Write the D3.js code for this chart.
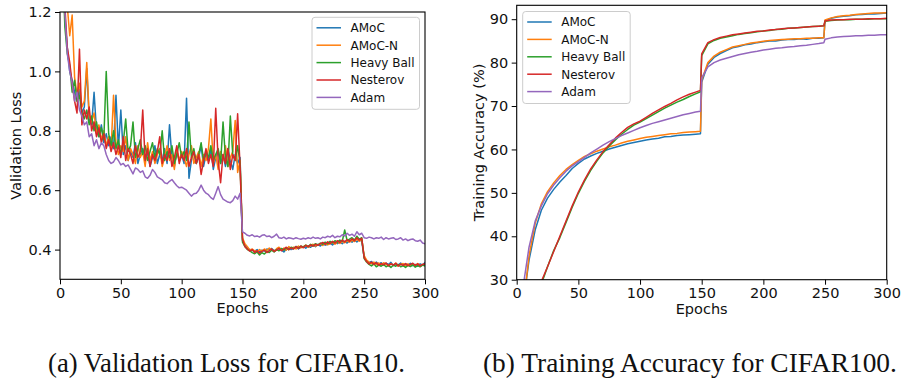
<!DOCTYPE html>
<html>
<head>
<meta charset="utf-8">
<script src="https://cdn.jsdelivr.net/npm/d3@7"></script>
<style>
  html, body { margin: 0; padding: 0; background: #fff; }
  svg { display: block; }
</style>
</head>
<body>
<svg id="fig" width="902" height="378"></svg>
<script>
// ---------- shared labels ----------
const methods = ["AMoC", "AMoC-N", "Heavy Ball", "Nesterov", "Adam"];
const colors = ["#1f77b4", "#ff7f0e", "#2ca02c", "#d62728", "#9467bd"];
const epochTicks = [0, 50, 100, 150, 200, 250, 300];
const lossTicks = [0.4, 0.6, 0.8, 1.0, 1.2];
const accTicks = [30, 40, 50, 60, 70, 80, 90];

// ---------- (a) validation loss, CIFAR10, every 2 epochs from 0 to 300 ----------
const lossEpochs = d3.range(0, 301, 2);
const lossAMoC = [
  2.2, 1.42, 1.18, 1.08, 1.0, 0.97, 0.93, 0.9, 0.94, 0.86,
  0.88, 1.01, 0.84, 0.82, 0.93, 0.8, 0.78, 0.82, 0.76, 0.79,
  0.75, 0.78, 0.74, 0.92, 0.74, 0.87, 0.72, 0.75, 0.7, 0.73,
  0.71, 0.76, 0.69, 0.72, 0.74, 0.7, 0.73, 0.68, 0.71, 0.75,
  0.69, 0.72, 0.7, 0.74, 0.69, 0.82, 0.71, 0.68, 0.73, 0.7,
  0.72, 0.69, 0.91, 0.64, 0.7, 0.73, 0.69, 0.71, 0.75, 0.68,
  0.72, 0.7, 0.74, 0.67, 0.71, 0.73, 0.69, 0.72, 0.68, 0.74,
  0.7, 0.67, 0.72, 0.69, 0.71, 0.43, 0.415, 0.405, 0.4, 0.398,
  0.395, 0.4, 0.392, 0.398, 0.395, 0.402, 0.398, 0.404, 0.396, 0.4,
  0.405, 0.398, 0.392, 0.402, 0.406, 0.4, 0.404, 0.41, 0.402, 0.408,
  0.41, 0.405, 0.412, 0.408, 0.415, 0.41, 0.418, 0.412, 0.42, 0.415,
  0.418, 0.422, 0.416, 0.424, 0.42, 0.426, 0.42, 0.428, 0.422, 0.43,
  0.425, 0.432, 0.426, 0.434, 0.428, 0.375, 0.362, 0.356, 0.36, 0.352,
  0.358, 0.35, 0.356, 0.348, 0.354, 0.35, 0.357, 0.346, 0.352, 0.348,
  0.355, 0.345, 0.352, 0.348, 0.354, 0.346, 0.35, 0.344, 0.352, 0.348,
  0.356
];
const lossAMoCN = [
  2.3, 1.55, 1.3, 1.22, 1.12, 1.19, 0.98, 0.92, 0.96, 0.88,
  0.9, 1.03, 0.85, 0.83, 0.86, 0.79, 0.82, 0.77, 0.8, 0.75,
  0.78, 0.74, 0.92, 0.76, 0.72, 0.75, 0.73, 0.78, 0.7, 0.74,
  0.72, 0.69, 0.75, 0.71, 0.73, 0.68, 0.76, 0.7, 0.73, 0.69,
  0.72, 0.74, 0.68, 0.71, 0.75, 0.7, 0.72, 0.67, 0.74, 0.7,
  0.73, 0.71, 0.68, 0.72, 0.75, 0.69, 0.71, 0.73, 0.68, 0.72,
  0.7, 0.74, 0.84, 0.69, 0.72, 0.67, 0.73, 0.7, 0.75, 0.68,
  0.71, 0.73, 0.835, 0.66, 0.7, 0.44, 0.42, 0.41, 0.398, 0.402,
  0.396, 0.392, 0.4, 0.395, 0.402, 0.397, 0.405, 0.4, 0.394, 0.403,
  0.408, 0.4, 0.405, 0.398, 0.41, 0.404, 0.408, 0.402, 0.412, 0.406,
  0.41, 0.415, 0.408, 0.413, 0.418, 0.412, 0.416, 0.42, 0.414, 0.422,
  0.416, 0.42, 0.425, 0.418, 0.426, 0.421, 0.428, 0.423, 0.43, 0.425,
  0.432, 0.427, 0.435, 0.428, 0.436, 0.38, 0.365, 0.358, 0.352, 0.358,
  0.35, 0.355, 0.348, 0.356, 0.35, 0.346, 0.352, 0.348, 0.355, 0.344,
  0.35, 0.353, 0.346, 0.352, 0.344, 0.35, 0.346, 0.353, 0.345, 0.35,
  0.348
];
const lossHeavyBall = [
  2.1, 1.38, 1.15, 1.06, 1.02, 0.93, 0.97, 0.9, 0.92, 0.86,
  0.84, 0.87, 0.82, 0.85, 0.8, 0.83, 0.78, 0.81, 0.77, 1.0,
  0.79, 0.75, 0.8, 0.74, 0.77, 0.72, 0.76, 0.84, 0.73, 0.75,
  0.83, 0.71, 0.74, 0.77, 0.72, 0.75, 0.7, 0.73, 0.76, 0.71,
  0.74, 0.72, 0.8, 0.7, 0.73, 0.71, 0.75, 0.69, 0.72, 0.76,
  0.71, 0.73, 0.7, 0.83, 0.71, 0.74, 0.69, 0.72, 0.76, 0.7,
  0.73, 0.71, 0.75, 0.7, 0.72, 0.74, 0.69, 0.83, 0.71, 0.68,
  0.85, 0.72, 0.7, 0.75, 0.69, 0.425, 0.41, 0.4, 0.396, 0.39,
  0.386, 0.392, 0.382, 0.39, 0.385, 0.394, 0.39, 0.398, 0.392, 0.4,
  0.396, 0.404, 0.398, 0.406, 0.4, 0.408, 0.403, 0.41, 0.405, 0.412,
  0.408, 0.415, 0.41, 0.418, 0.412, 0.42, 0.415, 0.422, 0.418, 0.425,
  0.42, 0.428, 0.422, 0.43, 0.425, 0.432, 0.428, 0.466, 0.43, 0.435,
  0.44, 0.432, 0.445, 0.435, 0.44, 0.37, 0.358, 0.35, 0.345, 0.352,
  0.342, 0.348, 0.344, 0.35, 0.342, 0.347, 0.34, 0.348, 0.344, 0.35,
  0.342, 0.346, 0.34, 0.347, 0.343, 0.349, 0.341, 0.346, 0.342, 0.348,
  0.345
];
const lossNesterov = [
  2.2, 1.48, 1.22, 1.08, 1.03, 0.96, 0.9, 0.86, 1.075, 0.82,
  0.87, 0.84, 0.88, 0.8, 0.83, 0.78, 0.81, 0.76, 0.79, 0.74,
  0.77, 0.73, 0.76, 0.72, 0.75, 0.71, 0.78, 0.7, 0.74, 0.72,
  0.69, 0.75, 0.71, 0.73, 0.87, 0.7, 0.74, 0.68, 0.72, 0.7,
  0.73, 0.78, 0.69, 0.72, 0.7, 0.74, 0.68, 0.71, 0.75, 0.69,
  0.72, 0.7, 0.74, 0.68, 0.71, 0.73, 0.69, 0.72, 0.653, 0.7,
  0.74, 0.69, 0.72, 0.68, 0.876, 0.7, 0.625, 0.72, 0.69, 0.74,
  0.67, 0.72, 0.7, 0.857, 0.68, 0.435, 0.41, 0.402, 0.395, 0.4,
  0.39, 0.396, 0.388, 0.394, 0.398, 0.39, 0.396, 0.402, 0.394, 0.398,
  0.404, 0.396, 0.402, 0.408, 0.4, 0.406, 0.402, 0.41, 0.404, 0.412,
  0.406, 0.414, 0.41, 0.416, 0.412, 0.418, 0.414, 0.42, 0.424, 0.418,
  0.426, 0.42, 0.428, 0.422, 0.43, 0.424, 0.432, 0.426, 0.434, 0.428,
  0.436, 0.43, 0.44, 0.432, 0.438, 0.372, 0.36, 0.352, 0.358, 0.35,
  0.356, 0.347, 0.353, 0.349, 0.355, 0.346, 0.352, 0.348, 0.354, 0.345,
  0.351, 0.347, 0.353, 0.346, 0.35, 0.354, 0.347, 0.352, 0.345, 0.35,
  0.352
];
const lossAdam = [
  2.1, 1.45, 1.2, 1.06, 1.0, 0.96, 0.9, 0.93, 0.87, 0.85,
  0.82, 0.83, 0.78, 0.79, 0.75, 0.77, 0.74, 0.76, 0.75, 0.72,
  0.7, 0.69, 0.695, 0.71, 0.7, 0.685, 0.69, 0.68, 0.685, 0.67,
  0.655, 0.675, 0.67, 0.66, 0.665, 0.645, 0.64, 0.65, 0.67, 0.66,
  0.645, 0.64, 0.635, 0.625, 0.622, 0.63, 0.636, 0.625, 0.615, 0.608,
  0.61, 0.605, 0.6, 0.59, 0.58, 0.588, 0.59, 0.6, 0.617, 0.6,
  0.59, 0.585, 0.575, 0.569, 0.59, 0.612, 0.585, 0.57, 0.565, 0.56,
  0.558, 0.565, 0.58, 0.57, 0.59, 0.46, 0.455, 0.448, 0.446, 0.45,
  0.444, 0.446, 0.442, 0.448, 0.45, 0.444, 0.446, 0.44, 0.445, 0.452,
  0.44, 0.438, 0.442, 0.436, 0.44, 0.438, 0.436, 0.44, 0.437, 0.435,
  0.438, 0.436, 0.44, 0.437, 0.442, 0.438, 0.44, 0.436, 0.442, 0.44,
  0.445, 0.442, 0.448, 0.44, 0.445, 0.443, 0.45, 0.446, 0.455, 0.448,
  0.452, 0.445, 0.46, 0.45, 0.455, 0.44, 0.438, 0.442, 0.44, 0.436,
  0.44, 0.438, 0.442, 0.434, 0.44, 0.436, 0.438, 0.44, 0.434, 0.436,
  0.44, 0.432, 0.436, 0.43, 0.434, 0.436, 0.43, 0.428, 0.432, 0.422,
  0.42
];

// ---------- (b) training accuracy (%), CIFAR100 ----------
const accEpochs = [
  1, 5, 10, 15, 20, 25, 30, 35, 40, 45, 50, 55, 60, 65, 70, 75, 80, 85, 90, 95,
  100, 105, 110, 115, 120, 125, 130, 135, 140, 145, 149,
  150, 155, 160, 165, 170, 175, 180, 185, 190, 195, 200, 205, 210, 215, 220,
  225, 230, 235, 240, 245, 249,
  250, 255, 260, 265, 270, 275, 280, 285, 290, 295, 300
];
const accAMoC = [
  10, 24, 34.5, 41.5, 46, 48.8, 50.8, 52.5, 54, 55.6, 56.8, 57.8, 58.5, 59.1, 59.6, 60.1, 60.5, 60.9, 61.3, 61.6,
  61.9, 62.2, 62.4, 62.6, 62.9, 63, 63.2, 63.3, 63.4, 63.5, 63.6,
  75.5, 79.6, 81.2, 82.1, 82.8, 83.4, 83.7, 84.1, 84.3, 84.6, 84.8, 85, 85, 85.2, 85.3,
  85.3, 85.5, 85.4, 85.6, 85.6, 85.7,
  89.6, 90.2, 90.5, 90.7, 90.8, 91, 91.1, 91.2, 91.2, 91.3, 91.4
];
const accAMoCN = [
  9, 23, 35.5, 43, 47.5, 50.3, 52.3, 54, 55.4, 56.5, 57.5, 58.4, 59, 59.6, 60.1, 60.6, 61, 61.5, 61.9, 62.2,
  62.5, 62.8, 63, 63.2, 63.4, 63.6, 63.7, 63.9, 64, 64.1, 64.2,
  76, 80, 81.5, 82.4, 83, 83.6, 83.9, 84.2, 84.5, 84.7, 84.9, 85.1, 85.2, 85.3, 85.4,
  85.5, 85.5, 85.6, 85.6, 85.7, 85.7,
  89.8, 90.3, 90.6, 90.8, 90.9, 91.1, 91.2, 91.3, 91.4, 91.4, 91.5
];
const accHeavyBall = [
  2.5, 9.5, 16.5, 23.5, 29, 33, 36.7, 39.7, 43.2, 46.7, 49.9, 52.7, 55.2, 57.3, 59.2, 60.8, 62.2, 63.5, 64.6, 65.6,
  66.3, 67.1, 67.9, 68.7, 69.5, 70.2, 70.9, 71.5, 72.2, 72.8, 73.3,
  81.6, 84.3, 85.1, 85.6, 85.9, 86.2, 86.5, 86.7, 86.9, 87.1, 87.3, 87.4, 87.6, 87.7, 87.9,
  88, 88.1, 88.2, 88.3, 88.4, 88.5,
  89.5, 89.7, 89.8, 89.9, 89.9, 90, 90, 90, 90.1, 90.1, 90.1
];
const accNesterov = [
  3, 10, 17, 24, 29.6, 33, 36.5, 40, 43.5, 47, 50.2, 53, 55.5, 57.6, 59.5, 61.1, 62.6, 63.9, 65.1, 65.9,
  66.5, 67.4, 68.3, 69.1, 69.9, 70.6, 71.4, 72.1, 72.7, 73.2, 73.6,
  82, 84.6, 85.3, 85.8, 86.1, 86.4, 86.6, 86.8, 87, 87.2, 87.3, 87.5, 87.6, 87.8, 87.9,
  88, 88.1, 88.2, 88.3, 88.4, 88.5,
  89.6, 89.8, 89.9, 89.9, 90, 90, 90, 90.1, 90.1, 90.1, 90.2
];
const accAdam = [
  13, 28, 37.5, 43.5, 47, 49.8, 51.8, 53.5, 55, 56.2, 57.2, 58.2, 59.2, 60.1, 61, 61.8, 62.5, 63.2, 63.8, 64.4,
  65, 65.5, 66, 66.4, 66.8, 67.2, 67.6, 68, 68.3, 68.6, 68.8,
  76.5, 79, 80, 80.6, 81, 81.4, 81.8, 82.1, 82.4, 82.6, 82.9, 83.1, 83.3, 83.4, 83.6,
  83.7, 83.9, 84, 84.2, 84.4, 84.6,
  85.4, 85.7, 85.9, 86, 86.1, 86.2, 86.2, 86.3, 86.3, 86.4, 86.4
];

const captions = ["(a) Validation Loss for CIFAR10.", "(b) Training Accuracy for CIFAR100."];

// ---------- drawing ----------
const svg = d3.select("#fig");
const SANS = "DejaVu Sans, Noto Sans, sans-serif";

function drawPanel(cfg) {
  const g = svg.append("g");
  const x = d3.scaleLinear().domain([0, 300]).range([cfg.left, cfg.right]);
  const y = d3.scaleLinear().domain(cfg.yDomain).range([cfg.bottom, cfg.top]);

  g.append("clipPath").attr("id", cfg.id + "-clip")
    .append("rect")
    .attr("x", cfg.left).attr("y", cfg.top)
    .attr("width", cfg.right - cfg.left).attr("height", cfg.bottom - cfg.top);

  const line = d3.line().x(d => x(d[0])).y(d => y(d[1]));
  const plot = g.append("g").attr("clip-path", `url(#${cfg.id}-clip)`);
  cfg.series.forEach((vals, i) => {
    plot.append("path")
      .datum(cfg.epochs.map((e, k) => [e, vals[k]]))
      .attr("d", line)
      .attr("fill", "none")
      .attr("stroke", colors[i])
      .attr("stroke-width", 1.5)
      .attr("stroke-linejoin", "round")
      .attr("stroke-linecap", "square");
  });

  // axes
  const xAxis = g.append("g")
    .attr("transform", `translate(0,${cfg.bottom})`)
    .call(d3.axisBottom(x).tickValues(epochTicks).tickSize(5).tickPadding(3.5).tickSizeOuter(0));
  const yAxis = g.append("g")
    .attr("transform", `translate(${cfg.left},0)`)
    .call(d3.axisLeft(y).tickValues(cfg.yTicks).tickFormat(cfg.yFormat)
      .tickSize(5).tickPadding(3.5).tickSizeOuter(0));
  [xAxis, yAxis].forEach(a => {
    a.select(".domain").remove();
    a.selectAll("line").attr("stroke", "#000").attr("stroke-width", 1);
    a.selectAll("text").attr("fill", "#111")
      .style("font-family", SANS).style("font-size", "14.5px");
  });

  // frame
  g.append("rect")
    .attr("x", cfg.left).attr("y", cfg.top)
    .attr("width", cfg.right - cfg.left).attr("height", cfg.bottom - cfg.top)
    .attr("fill", "none").attr("stroke", "#000").attr("stroke-width", 1.1);

  // axis titles
  g.append("text")
    .attr("x", (cfg.left + cfg.right) / 2).attr("y", cfg.bottom + 34)
    .attr("text-anchor", "middle").attr("fill", "#111")
    .style("font-family", SANS).style("font-size", "14.5px")
    .text("Epochs");
  g.append("text")
    .attr("transform", `translate(${cfg.yTitleX},${(cfg.top + cfg.bottom) / 2}) rotate(-90)`)
    .attr("text-anchor", "middle").attr("dy", "0.35em").attr("fill", "#111")
    .style("font-family", SANS).style("font-size", "14.5px")
    .text(cfg.yTitle);

  // legend
  const lg = g.append("g").attr("transform", `translate(${cfg.legend.x},${cfg.legend.y})`);
  lg.append("rect")
    .attr("width", 107.5).attr("height", 92).attr("rx", 3)
    .attr("fill", "#fff").attr("fill-opacity", 0.8)
    .attr("stroke", "#cccccc").attr("stroke-width", 1);
  methods.forEach((name, i) => {
    const yy = 10.5 + i * 17.4;
    lg.append("line")
      .attr("x1", 4.5).attr("x2", 29).attr("y1", yy).attr("y2", yy)
      .attr("stroke", colors[i]).attr("stroke-width", 1.5);
    lg.append("text")
      .attr("x", 38.5).attr("y", yy).attr("dy", "0.36em")
      .attr("fill", "#111")
      .style("font-family", SANS).style("font-size", "12px")
      .text(name);
  });
}

drawPanel({
  id: "loss",
  left: 60, right: 425, top: 12, bottom: 279.3,
  yDomain: [0.3, 1.2], yTicks: lossTicks, yFormat: d3.format(".1f"),
  epochs: lossEpochs,
  series: [lossAMoC, lossAMoCN, lossHeavyBall, lossNesterov, lossAdam],
  yTitle: "Validation Loss", yTitleX: 16,
  legend: { x: 312, y: 17.3 }
});

drawPanel({
  id: "acc",
  left: 516.7, right: 886.7, top: 5.3, bottom: 279.7,
  yDomain: [30, 93.2], yTicks: accTicks, yFormat: d3.format("d"),
  epochs: accEpochs,
  series: [accAMoC, accAMoCN, accHeavyBall, accNesterov, accAdam],
  yTitle: "Training Accuracy (%)", yTitleX: 479,
  legend: { x: 522.7, y: 11.5 }
});

// sub-figure captions, sized to their column width
const capSpans = [[48, 405], [483, 897]];
captions.forEach((c, i) => {
  const t = svg.append("text")
    .attr("y", 372).attr("fill", "#111")
    .style("font-family", "Liberation Serif, DejaVu Serif, serif")
    .style("font-size", "20px")
    .text(c);
  const w = t.node().getComputedTextLength();
  const target = capSpans[i][1] - capSpans[i][0];
  t.style("font-size", (20 * target / w).toFixed(2) + "px")
    .attr("x", capSpans[i][0]);
});
</script>
</body>
</html>
